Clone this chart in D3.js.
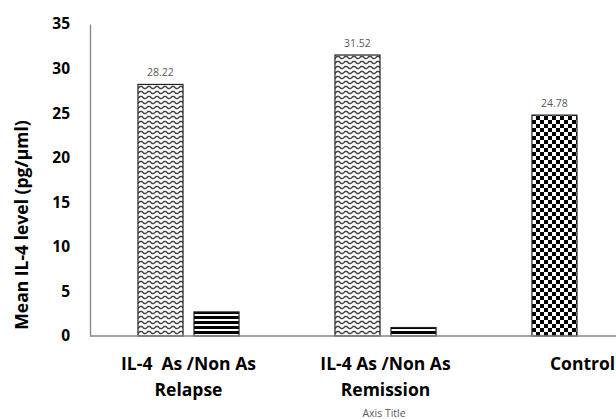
<!DOCTYPE html>
<html>
<head>
<meta charset="utf-8">
<script src="https://cdn.jsdelivr.net/npm/d3@7"></script>
<style>
  body { margin: 0; background: #fff; }
  text { font-family: "Open Sans", sans-serif; }
</style>
</head>
<body>
<div id="container"></div>
<script>
let categories = [['IL-4  As /Non As', 'Relapse'], ['IL-4 As /Non As', 'Remission'], ['Control']],
  seriesAs = [28.22, 31.52, 24.78],
  seriesNonAs = [2.7, 0.95, null],
  valueLabels = ['28.22', '31.52', '24.78'],
  yTicks = [0, 5, 10, 15, 20, 25, 30, 35]

let width = 616, height = 419,
  margin = { top: 24, left: 90, bottom: 83 },
  y0 = height - margin.bottom

let svg = d3.select('#container')
  .append('svg')
  .attr('width', width)
  .attr('height', height)

let defs = svg.append('defs')

// wave pattern
let wave = defs.append('pattern')
  .attr('id', 'wave')
  .attr('patternUnits', 'userSpaceOnUse')
  .attr('width', 8).attr('height', 5)
wave.append('rect').attr('width', 8).attr('height', 5).attr('fill', '#fff')
wave.append('path')
  .attr('d', 'M0,3.5 L2,1.5 L4,1.5 L6,3.5 L8,3.5')
  .attr('fill', 'none')
  .attr('stroke', '#444')
  .attr('stroke-width', 1.4)

// horizontal stripes
let stripes = defs.append('pattern')
  .attr('id', 'stripes')
  .attr('patternUnits', 'userSpaceOnUse')
  .attr('width', 8).attr('height', 5)
  .attr('y', 1)
stripes.append('rect').attr('width', 8).attr('height', 5).attr('fill', '#fff')
stripes.append('rect').attr('width', 8).attr('height', 3).attr('fill', '#000')

// checkerboard
let checker = defs.append('pattern')
  .attr('id', 'checker')
  .attr('patternUnits', 'userSpaceOnUse')
  .attr('width', 8).attr('height', 8)
checker.append('rect').attr('width', 8).attr('height', 8).attr('fill', '#fff')
checker.append('rect').attr('width', 4).attr('height', 4).attr('fill', '#000')
checker.append('rect').attr('x', 4).attr('y', 4).attr('width', 4).attr('height', 4).attr('fill', '#000')

// scales
let scale_y = d3.scaleLinear()
  .domain([0, 35])
  .range([y0, margin.top])

let scale_x = d3.scaleBand()
  .domain(d3.range(categories.length))
  .range([margin.left, margin.left + 591])
  .paddingInner(0.487)
  .paddingOuter(0.2435)

let scale_inner = d3.scaleBand()
  .domain([0, 1])
  .range([0, scale_x.bandwidth()])
  .paddingInner(0.196)

// axes
let y_axis = d3.axisLeft(scale_y).tickValues(yTicks).tickSize(0).tickPadding(20)
let gy = svg.append('g')
  .attr('transform', 'translate(' + margin.left + ',0)')
  .call(y_axis)
gy.select('.domain').attr('stroke', '#868686').attr('stroke-width', 1.3)
gy.selectAll('.tick text')
  .attr('font-size', 15.5)
  .attr('font-weight', 'bold')
  .attr('fill', '#000')
  .style('font-family', '"Open Sans", sans-serif')

// bars
let patternsA = ['url(#wave)', 'url(#wave)', 'url(#checker)']
let bars = []
seriesAs.forEach(function (d, i) {
  bars.push({ cat: i, s: 0, v: d, fill: patternsA[i], label: valueLabels[i] })
})
seriesNonAs.forEach(function (d, i) {
  if (d != null) bars.push({ cat: i, s: 1, v: d, fill: 'url(#stripes)', label: null })
})

let bar = svg.selectAll('g.bar')
  .data(bars).enter().append('g')
  .attr('class', 'bar')
  .attr('transform', function (d) {
    return 'translate(' + (scale_x(d.cat) + scale_inner(d.s)) + ',0)'
  })

bar.append('rect')
  .attr('y', function (d) { return scale_y(d.v) })
  .attr('width', scale_inner.bandwidth())
  .attr('height', function (d) { return y0 - scale_y(d.v) })
  .attr('fill', function (d) { return d.fill })
  .attr('stroke', '#222')
  .attr('stroke-width', 1.2)

bar.filter(function (d) { return d.label })
  .append('text')
  .text(function (d) { return d.label })
  .attr('x', scale_inner.bandwidth() / 2)
  .attr('y', function (d) { return scale_y(d.v) - 8 })
  .attr('text-anchor', 'middle')
  .attr('font-size', 10.5)
  .attr('fill', '#595959')

// x axis line
svg.append('line')
  .attr('x1', margin.left).attr('x2', width)
  .attr('y1', y0).attr('y2', y0)
  .attr('stroke', '#868686')
  .attr('stroke-width', 1.3)

// category labels
let cat = svg.selectAll('text.cat')
  .data(categories).enter().append('text')
  .attr('class', 'cat')
  .attr('x', function (d, i) { return scale_x(i) + scale_x.bandwidth() / 2 })
  .attr('y', 370)
  .attr('text-anchor', 'middle')
  .attr('font-size', 17.5)
  .attr('font-weight', 'bold')
  .style('white-space', 'pre')
cat.selectAll('tspan')
  .data(function (d) { return d }).enter().append('tspan')
  .attr('x', function () { return d3.select(this.parentNode).attr('x') })
  .attr('dy', function (d, j) { return j ? 26 : 0 })
  .text(function (d) { return d })

// axis titles
svg.append('text')
  .attr('x', 384).attr('y', 417)
  .attr('text-anchor', 'middle')
  .attr('font-size', 10.5)
  .attr('fill', '#595959')
  .text('Axis Title')

svg.append('text')
  .attr('transform', 'translate(28,' + 225 + ') rotate(-90)')
  .attr('text-anchor', 'middle')
  .attr('font-size', 17.5)
  .attr('font-weight', 'bold')
  .text('Mean IL-4 level (pg/\u00b5ml)')
</script>
</body>
</html>
